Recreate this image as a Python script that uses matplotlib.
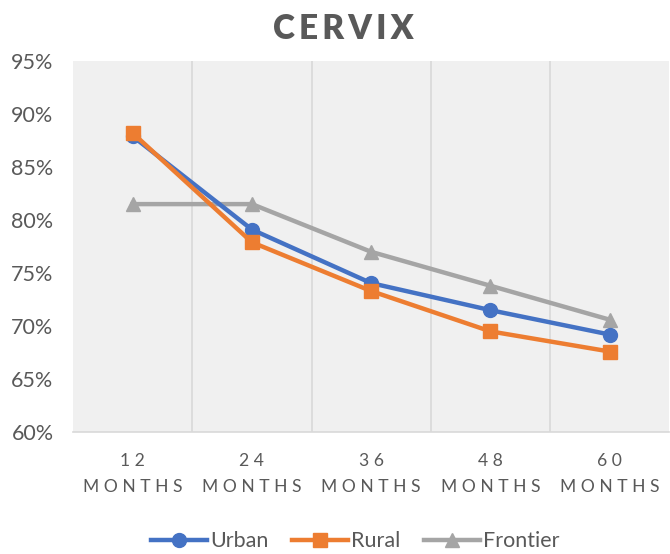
import matplotlib
matplotlib.use('Agg')
import matplotlib.pyplot as plt

plt.rcParams['font.family'] = ['Lato', 'DejaVu Sans']

categories = ['12', '24', '36', '48', '60']
urban = [87.9, 79.1, 74.05, 71.5, 69.2]
rural = [88.2, 77.9, 73.3, 69.5, 67.6]
frontier = [81.5, 81.5, 77.0, 73.8, 70.6]
yticks = [60, 65, 70, 75, 80, 85, 90, 95]

grey_txt = '#595959'

fig = plt.figure(figsize=(6.70, 5.54), dpi=100)
ax = fig.add_axes([0.109, 0.220, 0.890, 0.670])
ax.set_facecolor('#F0F0F0')

x = list(range(len(categories)))
ax.plot(x, urban, color='#4472C4', lw=3.2, marker='o', ms=10, label='Urban', zorder=3)
ax.plot(x, rural, color='#ED7D31', lw=3.2, marker='s', ms=9.5, label='Rural', zorder=4)
ax.plot(x, frontier, color='#A5A5A5', lw=3.2, marker='^', ms=10, label='Frontier', zorder=2)

ax.set_xlim(-0.5, len(categories) - 0.5)
ax.set_ylim(60, 95)
ax.set_yticks(yticks)
ax.set_yticklabels([f'{v}%' for v in yticks], fontsize=15.5, color=grey_txt)

# vertical gridlines between categories
for b in [i + 0.5 for i in range(len(categories) - 1)]:
    ax.axvline(b, color='#D9D9D9', lw=1.2, zorder=1)

ax.set_xticks(x)
ax.set_xticklabels([' '.join(c) + '\n' + ' '.join('MONTHS') for c in categories],
                   fontsize=12.6, color=grey_txt, linespacing=1.75)
ax.tick_params(length=0, pad=15)
ax.tick_params(axis='y', pad=14)

for s in ['top', 'right', 'left']:
    ax.spines[s].set_visible(False)
ax.spines['bottom'].set_color('#D9D9D9')
ax.spines['bottom'].set_linewidth(1.2)

fig.text(0.513, 0.948, 'C\u2009E\u2009R\u2009V\u2009I\u2009X', ha='center', va='center',
         fontsize=24, fontweight='heavy', color=grey_txt)

fig.legend(loc='center', bbox_to_anchor=(0.53, 0.023), ncol=3, frameon=False,
           fontsize=15.5, labelcolor=grey_txt, handlelength=2.6, handletextpad=0.15,
           columnspacing=1.1)

fig.savefig('out.png', dpi=100)
